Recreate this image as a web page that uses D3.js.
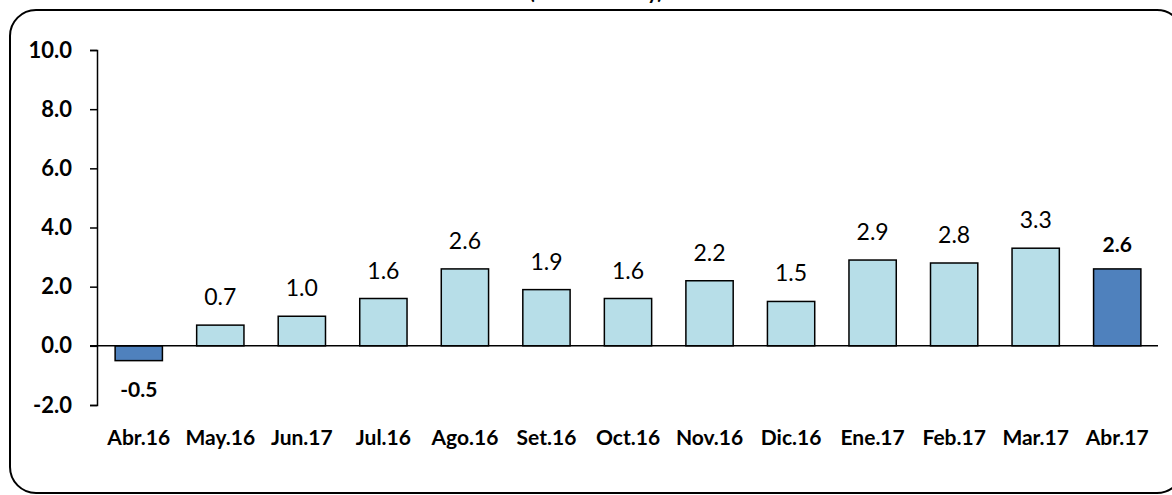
<html>
<head>
<meta charset="utf-8">
<script src="https://d3js.org/d3.v7.min.js"></script>
<style>
body { margin: 0; background: #fff; }
text { font-family: Lato, "Open Sans", sans-serif; fill: #000; }
</style>
</head>
<body>
<svg width="1172" height="495"></svg>
<script>
var categories = ["Abr.16", "May.16", "Jun.17", "Jul.16", "Ago.16", "Set.16", "Oct.16",
                  "Nov.16", "Dic.16", "Ene.17", "Feb.17", "Mar.17", "Abr.17"];
var values = [-0.5, 0.7, 1.0, 1.6, 2.6, 1.9, 1.6, 2.2, 1.5, 2.9, 2.8, 3.3, 2.6];
var highlighted = ["Abr.16", "Abr.17"];
var yTicks = [-2, 0, 2, 4, 6, 8, 10];

var fmt = function (v) { return d3.format(".1f")(v).replace("\u2212", "-"); };

var svg = d3.select("svg");

// rounded frame, partly outside the window
svg.append("rect")
  .attr("x", 10).attr("y", 10)
  .attr("width", 1173).attr("height", 483)
  .attr("rx", 26).attr("ry", 26)
  .attr("fill", "none").attr("stroke", "#000").attr("stroke-width", 2);

// title mostly clipped above the window
svg.append("text")
  .attr("x", 596).attr("y", -1)
  .attr("text-anchor", "middle")
  .style("font-size", "20px").style("font-weight", "bold")
  .text("(Var. % anual y)");

var x = d3.scaleBand()
  .domain(categories)
  .range([98, 1158])
  .paddingInner(0.42)
  .paddingOuter(0.21);

var y = d3.scaleLinear()
  .domain([-2, 10])
  .range([405, 50]);

// y axis
var yAxis = svg.append("g")
  .attr("transform", "translate(97,0)")
  .call(d3.axisLeft(y).tickValues(yTicks).tickFormat(fmt).tickSizeOuter(0).tickSize(7).tickPadding(18));
yAxis.select(".domain").attr("stroke", "#000").attr("stroke-width", 1.5);
yAxis.selectAll(".tick line").attr("stroke", "#000").attr("stroke-width", 1.5);
yAxis.selectAll(".tick text")
  .style("font-size", "22px").style("font-weight", "bold")
  .style("font-family", "Lato, sans-serif").attr("fill", "#000");

// bars
svg.append("g").selectAll("rect")
  .data(values)
  .enter()
  .append("rect")
    .attr("x", function (d, i) { return x(categories[i]); })
    .attr("y", function (d) { return y(Math.max(0, d)); })
    .attr("width", x.bandwidth())
    .attr("height", function (d) { return Math.abs(y(d) - y(0)); })
    .attr("fill", function (d, i) { return highlighted.indexOf(categories[i]) >= 0 ? "#4F81BD" : "#B7DEE8"; })
    .attr("stroke", "#000")
    .attr("stroke-width", 1.5);

// zero line
svg.append("line")
  .attr("x1", 90).attr("x2", 1158)
  .attr("y1", y(0)).attr("y2", y(0))
  .attr("stroke", "#000").attr("stroke-width", 1.5);

// value labels
svg.append("g").selectAll("text")
  .data(values)
  .enter()
  .append("text")
    .attr("x", function (d, i) { return x(categories[i]) + x.bandwidth() / 2; })
    .attr("y", function (d, i) {
      var hi = highlighted.indexOf(categories[i]) >= 0;
      if (d < 0) return y(d) + 36;
      return y(d) - (hi ? 17 : 20);
    })
    .attr("text-anchor", "middle")
    .style("font-size", function (d, i) { return highlighted.indexOf(categories[i]) >= 0 ? "21px" : "23px"; })
    .style("font-weight", function (d, i) { return highlighted.indexOf(categories[i]) >= 0 ? "bold" : "normal"; })
    .text(fmt);

// category labels
svg.append("g").selectAll("text")
  .data(categories)
  .enter()
  .append("text")
    .attr("x", function (d) { return x(d) + x.bandwidth() / 2; })
    .attr("y", 445)
    .attr("text-anchor", "middle")
    .style("font-size", "21px").style("font-weight", "bold")
    .text(function (d) { return d; });
</script>
</body>
</html>
